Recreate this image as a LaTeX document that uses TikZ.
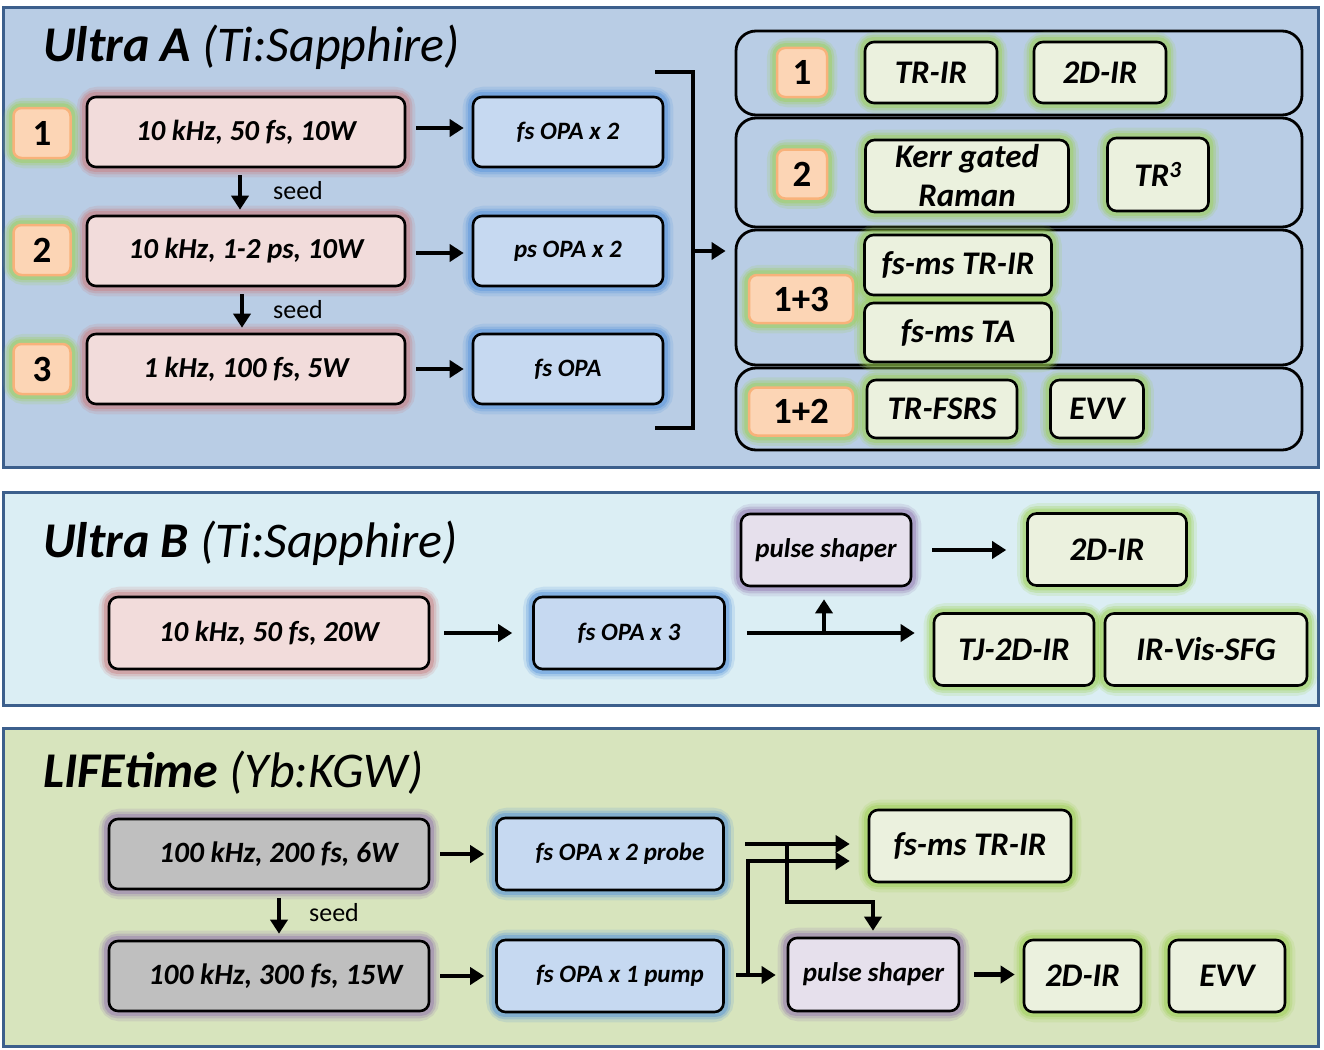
\documentclass[tikz,border=0pt]{standalone}
\usepackage{fontspec}
\setmainfont{Carlito}
\usetikzlibrary{arrows.meta}
\pgfdeclarelayer{bg}
\pgfdeclarelayer{glowlayer}
\pgfsetlayers{bg,glowlayer,main}

\definecolor{panelA}{HTML}{B9CDE5}
\definecolor{panelB}{HTML}{DBEEF4}
\definecolor{panelC}{HTML}{D7E4BD}
\definecolor{panelborder}{HTML}{3C5F8C}
\definecolor{redfill}{HTML}{F2DCDB}
\definecolor{redglow}{HTML}{C9787A}
\definecolor{bluefill}{HTML}{C6D9F1}
\definecolor{blueglow}{HTML}{4F8FDB}
\definecolor{greenfill}{HTML}{EBF1DE}
\definecolor{greenglow}{HTML}{9BD04F}
\definecolor{orangefill}{HTML}{FCD5B5}
\definecolor{orangeborder}{HTML}{F8B27A}
\definecolor{purplefill}{HTML}{E6E0EC}
\definecolor{purpleglow}{HTML}{8F72AE}
\definecolor{greyfill}{HTML}{BFBFBF}

\tikzset{
  panel/.style={draw=panelborder, line width=3pt},
  box/.style={draw=black, line width=2.6pt, rounded corners=9pt, inner sep=0pt, align=center},
  redbox/.style={box, fill=redfill, minimum width=318pt, minimum height=70pt, font=\bfseries\itshape\fontsize{29}{32}\selectfont},
  bluebox/.style={box, fill=bluefill, minimum width=190pt, minimum height=70pt, font=\bfseries\itshape\fontsize{25}{28}\selectfont},
  greenbox/.style={box, fill=greenfill, font=\bfseries\itshape\fontsize{33}{39}\selectfont},
  numbox/.style={draw=orangeborder, fill=orangefill, line width=2.5pt, rounded corners=8pt, inner sep=0pt, font=\bfseries\fontsize{37}{40}\selectfont, minimum height=50pt},
  purplebox/.style={box, fill=purplefill, font=\bfseries\itshape\fontsize{27}{30}\selectfont},
  greybox/.style={box, fill=greyfill, minimum width=320pt, minimum height=70pt, font=\bfseries\itshape\fontsize{29.5}{32}\selectfont},
  rowbox/.style={draw=black, line width=2.8pt, rounded corners=20pt, fill=panelA, inner sep=0pt},
  titletext/.style={anchor=west, inner sep=0pt, font=\fontsize{50}{54}\selectfont},
  seedtext/.style={inner sep=0pt, font=\fontsize{26}{28}\selectfont},
  arr/.style={line width=4.5pt, -{Triangle[length=14pt,width=17pt]}},
  g1/.style={draw=#1, line width=18pt, draw opacity=0.16, rounded corners=12pt},
  g2/.style={draw=#1, line width=12pt, draw opacity=0.26, rounded corners=10pt},
  g3/.style={draw=#1, line width=7pt, draw opacity=0.38, rounded corners=9pt}
}

\begin{document}
\begin{tikzpicture}[x=1pt,y=-1pt]
\useasboundingbox (0,0) rectangle (1324,1049);

% ---------- panels ----------
\begin{pgfonlayer}{bg}
\fill[white] (0,0) rectangle (1324,1049);
\draw[panel, fill=panelA] (3,8) rectangle (1318,467);
\draw[panel, fill=panelB] (3,492) rectangle (1318,705);
\draw[panel, fill=panelC] (3,728) rectangle (1318,1046);
\end{pgfonlayer}

% ---------- Ultra A ----------
\node[titletext] (titleA) at (43,47) {\bfseries\itshape Ultra A \mdseries(Ti:Sapphire)};

\node[numbox, minimum width=57pt] (n1) at (42,133) {1};
\node[numbox, minimum width=57pt] (n2) at (42,250) {2};
\node[numbox, minimum width=57pt] (n3) at (42,369) {3};

\node[redbox] (r1) at (246,132) {10 kHz, 50 fs, 10W};
\node[redbox] (r2) at (246,251) {10 kHz, 1-2 ps, 10W};
\node[redbox] (r3) at (246,369) {1 kHz, 100 fs, 5W};

\node[bluebox] (b1) at (568,132) {fs OPA x 2};
\node[bluebox] (b2) at (568,251) {ps OPA x 2};
\node[bluebox] (b3) at (568,369) {fs OPA};

\node[seedtext] (s1) at (298,191) {seed};
\node[seedtext] (s2) at (298,310) {seed};

\draw[arr, shorten <=7pt, shorten >=5pt] ([xshift=-6pt]r1.south) -- ([xshift=-6pt]r2.north);
\draw[arr, shorten <=7pt, shorten >=5pt] ([xshift=-4pt]r2.south) -- ([xshift=-4pt]r3.north);
\draw[arr, shorten <=10pt, shorten >=8pt] ([yshift=4pt]r1.east) -- ([yshift=4pt]r1.east -| b1.west);
\draw[arr, shorten <=10pt, shorten >=8pt] ([yshift=-2pt]r2.east) -- ([yshift=-2pt]r2.east -| b2.west);
\draw[arr, shorten <=10pt, shorten >=8pt] (r3.east) -- (r3.east -| b3.west);

% bracket
\coordinate (bt) at (655,72);
\coordinate (bb) at (655,428);
\coordinate (bm) at (693,251);
\draw[line width=4.5pt] (bt) -- (693,72) -- (693,428) -- (bb);

% right rows
\begin{pgfonlayer}{bg}
\node[rowbox, minimum width=566pt, minimum height=84pt] (rowA) at (1019,73) {};
\node[rowbox, minimum width=566pt, minimum height=109pt] (rowB) at (1019,172.5) {};
\node[rowbox, minimum width=566pt, minimum height=135pt] (rowC) at (1019,297.5) {};
\node[rowbox, minimum width=566pt, minimum height=82pt] (rowD) at (1019,409) {};
\end{pgfonlayer}
\draw[arr, shorten >=9pt] (bm) -- (bm -| rowC.west);

\node[numbox, minimum width=50pt, minimum height=49pt] (m1) at (802,72.5) {1};
\node[numbox, minimum width=50pt, minimum height=49pt] (m2) at (802,174) {2};
\node[numbox, minimum width=104pt, minimum height=48pt] (m13) at (801,299) {1+3};
\node[numbox, minimum width=104pt, minimum height=48pt] (m12) at (801,411.5) {1+2};

\node[greenbox, minimum width=132pt, minimum height=61pt] (trir) at (931,72.5) {TR-IR};
\node[greenbox, minimum width=132pt, minimum height=61pt] (ir2dA) at (1100,72.5) {2D-IR};
\node[greenbox, minimum width=203pt, minimum height=72pt] (kerr) at (967,176) {Kerr gated\\Raman};
\node[greenbox, minimum width=101pt, minimum height=73pt] (tr3) at (1158,174.5) {TR\textsuperscript{3}};
\node[greenbox, minimum width=187pt, minimum height=60pt] (fsmsA) at (958,265) {fs-ms TR-IR};
\node[greenbox, minimum width=187pt, minimum height=59pt] (fsta) at (958,332.5) {fs-ms TA};
\node[greenbox, minimum width=150pt, minimum height=58pt] (fsrs) at (942,409) {TR-FSRS};
\node[greenbox, minimum width=93pt, minimum height=58pt] (evvA) at (1097,409) {EVV};

% ---------- Ultra B ----------
\node[titletext] (titleB) at (43,543) {\bfseries\itshape Ultra B \mdseries(Ti:Sapphire)};
\node[redbox, minimum width=320pt, minimum height=72pt] (rB) at (269,633) {10 kHz, 50 fs, 20W};
\node[bluebox, minimum width=191pt, minimum height=72pt] (bB) at (629,633) {fs OPA x 3};
\node[purplebox, minimum width=170pt, minimum height=72pt] (psB) at (826,550) {pulse shaper};
\node[greenbox, minimum width=159pt, minimum height=72pt] (irB) at (1107,549.5) {2D-IR};
\node[greenbox, minimum width=160pt, minimum height=72pt] (tjB) at (1014,649.5) {TJ-2D-IR};
\node[greenbox, minimum width=202pt, minimum height=72pt] (sfgB) at (1206,649.5) {IR-Vis-SFG};

\draw[arr, shorten <=14pt, shorten >=20pt] (rB.east) -- (rB.east -| bB.west);
\draw[arr, shorten <=21pt, shorten >=18pt] (bB.east) -- (bB.east -| tjB.west);
\coordinate (jB) at (824,633);
\draw[arr, shorten >=12pt] (jB) -- (jB |- psB.south);
\draw[arr, shorten <=20pt, shorten >=20pt] (psB.east) -- (psB.east -| irB.west);

% ---------- LIFEtime ----------
\node[titletext] (titleC) at (43,773) {\bfseries\itshape LIFEtime \mdseries(Yb:KGW)};
\node[greybox] (gC1) at (269,854) {\hspace*{19pt}100 kHz, 200 fs, 6W};
\node[greybox] (gC2) at (269,976) {\hspace*{13pt}100 kHz, 300 fs, 15W};
\node[bluebox, minimum width=227pt, minimum height=72pt] (cP) at (610,854) {\hspace*{20pt}fs OPA x 2 probe};
\node[bluebox, minimum width=227pt, minimum height=72pt] (cQ) at (610,976) {\hspace*{20pt}fs OPA x 1 pump};
\node[greenbox, minimum width=202pt, minimum height=72pt] (trirC) at (970,846) {fs-ms TR-IR};
\node[purplebox, minimum width=171pt, minimum height=73pt] (psC) at (873.5,974.5) {pulse shaper};
\node[greenbox, minimum width=117pt, minimum height=72pt] (irC) at (1082.5,976) {2D-IR};
\node[greenbox, minimum width=116pt, minimum height=72pt] (evC) at (1227,976) {EVV};
\node[seedtext] (s3) at (334,913) {seed};

\draw[arr, shorten <=8pt, shorten >=6pt] ([xshift=10pt]gC1.south) -- ([xshift=10pt]gC2.north);
\draw[arr, shorten <=10pt, shorten >=11pt] (gC1.east) -- (gC1.east -| cP.west);
\draw[arr, shorten <=10pt, shorten >=11pt] (gC2.east) -- (gC2.east -| cQ.west);

\coordinate (pA) at (745,844);
\coordinate (pB) at (787,844);
\coordinate (pC) at (873,902);
\coordinate (qA) at (736,975);
\coordinate (qB) at (748,975);
\coordinate (qC) at (748,861);
\draw[arr, shorten >=18pt] (pA) -- (pA -| trirC.west);
\draw[arr, shorten >=6pt] (pB) |- (pC) -- (pC |- psC.north);
\draw[arr, shorten >=11pt] (qA) -- (qA -| psC.west);
\draw[arr, shorten >=18pt] (qB) -- (qC) -- (qC -| trirC.west);
\draw[arr, shorten <=14pt, shorten >=8pt] (psC.east) -- (psC.east -| irC.west);

% ---------- glows ----------
\begin{pgfonlayer}{glowlayer}
\foreach \n/\c in {r1/redglow,r2/redglow,r3/redglow,rB/redglow,
  b1/blueglow,b2/blueglow,b3/blueglow,bB/blueglow,cP/blueglow,cQ/blueglow,
  n1/greenglow,n2/greenglow,n3/greenglow,m1/greenglow,m2/greenglow,m13/greenglow,m12/greenglow,
  trir/greenglow,ir2dA/greenglow,kerr/greenglow,tr3/greenglow,fsmsA/greenglow,fsta/greenglow,fsrs/greenglow,evvA/greenglow,
  irB/greenglow,tjB/greenglow,sfgB/greenglow,trirC/greenglow,irC/greenglow,evC/greenglow,
  psB/purpleglow,psC/purpleglow,gC1/purpleglow,gC2/purpleglow}{
  \draw[g1=\c] (\n.south west) rectangle (\n.north east);
  \draw[g2=\c] (\n.south west) rectangle (\n.north east);
  \draw[g3=\c] (\n.south west) rectangle (\n.north east);
}
\end{pgfonlayer}
\end{tikzpicture}
\end{document}
